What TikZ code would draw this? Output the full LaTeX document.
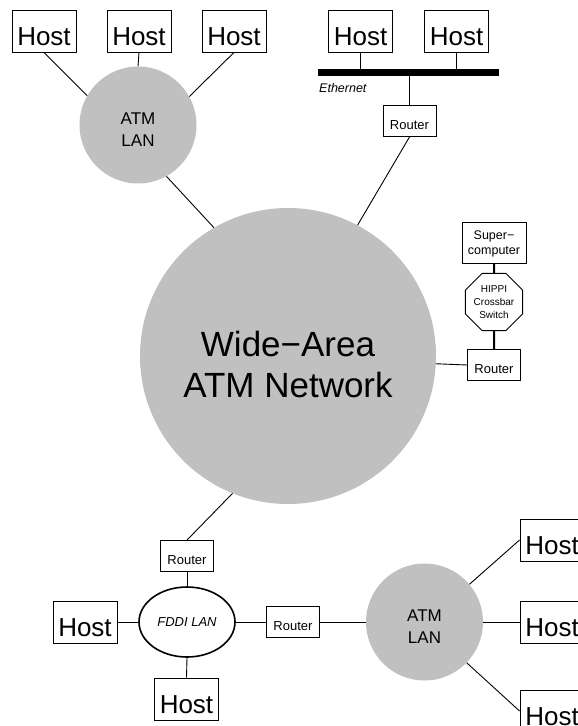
\documentclass[tikz,border=0pt]{standalone}
\usepackage{fontspec}
\setmainfont{Liberation Sans}
\usetikzlibrary{shapes.geometric}
\definecolor{lanfill}{RGB}{192,192,192}
\begin{document}
\begin{tikzpicture}[x=1pt,y=-1pt,
  link/.style={line width=0.9pt},
  heavylink/.style={line width=2pt},
  hostbox/.style={draw, line width=0.9pt, minimum width=64pt, minimum height=42pt,
    inner sep=0pt, text height=29.4pt, text depth=0pt,
    font=\fontsize{26}{28}\selectfont},
  routerbox/.style={draw, line width=0.9pt, minimum width=53pt, minimum height=31pt,
    inner sep=0pt, text height=16pt, text depth=0pt,
    font=\fontsize{13}{15}\selectfont},
  lancloud/.style={circle, fill=lanfill, minimum size=117pt, inner sep=0pt},
  lantext/.style={align=center, inner sep=0pt, font=\fontsize{17}{22}\selectfont},
  itlabel/.style={inner sep=0pt, font=\itshape\fontsize{12.5}{14}\selectfont}]
\useasboundingbox (0,0) rectangle (578,726);
\clip (0,0) rectangle (578,726);

% ---- wide-area core
\node[circle, fill=lanfill, minimum size=296pt, inner sep=0pt] (wan) at (288,356) {};
\node[align=center, inner sep=0pt, font=\fontsize{35}{41}\selectfont] (wantext) at (288,364)
  {Wide−Area\\ATM Network};

% ---- ATM LAN with three hosts (top left)
\node[lancloud] (atmA) at (138,125) {};
\node[lantext] (atmAtext) at (138,130) {ATM\\LAN};
\node[hostbox] (h1) at (44,31) {Host};
\node[hostbox] (h2) at (139,31) {Host};
\node[hostbox] (h3) at (234,31) {Host};
\draw[link] (h1.south) -- (atmA.150);
\draw[link] (h2.south) -- (atmA.north);
\draw[link] (h3.south) -- (atmA.29);
\draw[link] (atmA.-61) -- (wan.120.6);

% ---- Ethernet segment (top right)
\coordinate (ethL) at (318,72.5);
\coordinate (ethR) at (499,72.5);
\draw[line width=7pt] (ethL) -- (ethR);
\node[itlabel, anchor=base west] (ethlabel) at (319,92) {Ethernet};
\node[hostbox] (eh1) at (360.5,31) {Host};
\node[hostbox] (eh2) at (456.5,31) {Host};
\node[routerbox] (er) at (409.5,121) {Router};
\draw[link] (eh1.south) -- (eh1.south |- ethL);
\draw[link] (eh2.south) -- (eh2.south |- ethL);
\draw[link] (er.north |- ethL) -- (er.north);
\draw[link] (er.south) -- (wan.62.4);

% ---- supercomputer behind a HIPPI switch
\node[draw, line width=0.9pt, minimum width=64pt, minimum height=41pt, inner sep=0pt,
  align=center, text depth=0pt, font=\fontsize{12.5}{15}\selectfont] (super) at (494,242.5)
  {Super−\\computer};
\node[regular polygon, regular polygon sides=8, draw, line width=0.9pt,
  minimum size=56pt, inner sep=0pt, align=center,
  font=\fontsize{10}{13.3}\selectfont] (hippi) at (494,302) {HIPPI\\Crossbar\\Switch};
\node[routerbox] (hr) at (494,365) {Router};
\draw[heavylink] (super.south) -- (hippi.north);
\draw[heavylink] (hippi.south) -- (hr.north);
\draw[link] (wan.-3.5) -- (hr.west);

% ---- FDDI ring (bottom left)
\node[routerbox] (br) at (187,556) {Router};
\node[ellipse, draw, line width=1.6pt, minimum width=96pt, minimum height=70pt,
  inner sep=0pt, font=\itshape\fontsize{13}{15}\selectfont] (fddi) at (187,622) {FDDI LAN};
\node[hostbox] (fh1) at (85,622) {Host};
\node[hostbox] (fh2) at (186.5,699) {Host};
\node[routerbox] (lr) at (293,622) {Router};
\draw[link] (wan.-112.6) -- (br.north);
\draw[link] (br.south) -- (fddi.north);
\draw[link] (fh1.east) -- (fddi.west);
\draw[link] (fddi.south) -- (fh2.north);
\draw[link] (fddi.east) -- (lr.west);

% ---- ATM LAN with three hosts (bottom right)
\node[lancloud] (atmB) at (424.5,622) {};
\node[lantext] (atmBtext) at (424.5,627) {ATM\\LAN};
\node[hostbox] (rh1) at (552,540) {Host};
\node[hostbox] (rh2) at (552,622) {Host};
\node[hostbox] (rh3) at (552,711) {Host};
\draw[link] (lr.east) -- (atmB.west);
\draw[link] (atmB.40.9) -- (rh1.west);
\draw[link] (atmB.east) -- (rh2.west);
\draw[link] (atmB.-44.3) -- (rh3.west);
\end{tikzpicture}
\end{document}
